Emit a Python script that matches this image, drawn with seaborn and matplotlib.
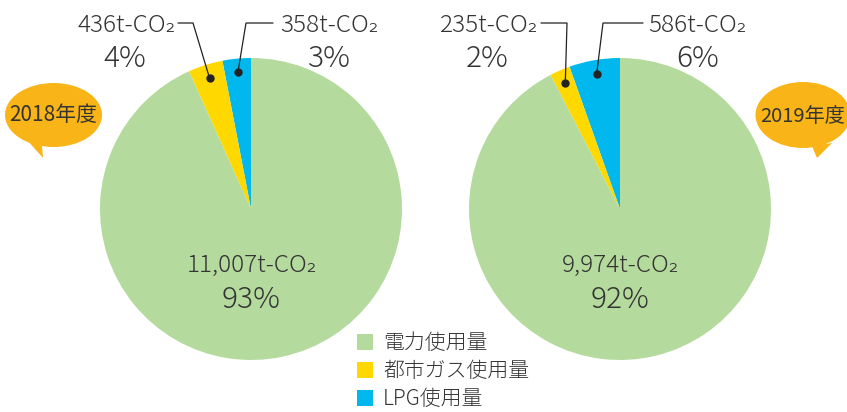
import numpy as np
import matplotlib
matplotlib.use("Agg")
import matplotlib.pyplot as plt
from matplotlib.patches import Ellipse, Polygon, Rectangle
import seaborn as sns

# ---------------- data ----------------
categories = ["電力使用量", "都市ガス使用量", "LPG使用量"]
years = ["2018年度", "2019年度"]
values_2018 = [11007, 436, 358]   # electricity, city gas, LPG (t-CO2)
values_2019 = [9974, 235, 586]
pct_2018 = [93, 4, 3]
pct_2019 = [92, 2, 6]

# ---------------- style ----------------
sns.set_theme(style="white")
plt.rcParams["font.family"] = ["Noto Sans CJK JP", "DejaVu Sans"]
palette = sns.color_palette(["#B5DA9D", "#FFD800", "#00B8EE"])
orange = "#F9B418"
txt = "#333333"
FW = "light"

W, H = 847, 412
fig = plt.figure(figsize=(W / 100, H / 100), dpi=100)
ax = fig.add_axes([0, 0, 1, 1])


def Y(py):
    return H - py


R = 151
centers = [(251, Y(209)), (620, Y(209))]
all_vals = [values_2018, values_2019]
all_pct = [pct_2018, pct_2019]

wedges_all = []
for (cx, cy), vals in zip(centers, all_vals):
    # draw order starting at 12 o'clock counter-clockwise: LPG, gas, electricity
    order = [2, 1, 0]
    w, _ = ax.pie([vals[i] for i in order], colors=[palette[i] for i in order],
                  startangle=90, counterclock=True, center=(cx, cy), radius=R,
                  wedgeprops=dict(linewidth=0), frame=True)
    wedges_all.append(dict(zip(order, w)))

ax.set_xlim(0, W)
ax.set_ylim(0, H)
ax.set_aspect("equal", adjustable="box")
ax.axis("off")


def co2(v):
    return f"{v:,}t-CO₂"


FS_VAL = 17.5
FS_PCT = 21.5

# layout of outside labels (pixel coordinates)
# (text anchor x, ha, pct center x, elbow x, line-end x)
outside = [
    {1: (176, "right", 125, 193, 178), 2: (280, "left", 329, 246, 273)},
    {1: (538, "right", 487, 567, 541), 2: (648, "left", 698, 603, 643)},
]

for k, ((cx, cy), vals, pcts) in enumerate(zip(centers, all_vals, all_pct)):
    # main (electricity) label inside pie
    ax.text(cx + 1, Y(272), co2(vals[0]), ha="center", va="baseline",
            fontsize=FS_VAL, color=txt, fontweight=FW)
    ax.text(cx, Y(308), f"{pcts[0]}%", ha="center", va="baseline",
            fontsize=FS_PCT, color=txt, fontweight=FW)
    for i in (1, 2):
        tx, ha, pcx, ex, lx = outside[k][i]
        ax.text(tx, Y(32), co2(vals[i]), ha=ha, va="baseline",
                fontsize=FS_VAL, color=txt, fontweight=FW)
        ax.text(pcx, Y(67), f"{pcts[i]}%", ha="center", va="baseline",
                fontsize=FS_PCT, color=txt, fontweight=FW)
        wd = wedges_all[k][i]
        mid = np.deg2rad((wd.theta1 + wd.theta2) / 2)
        dx = cx + 0.91 * R * np.cos(mid)
        dy = cy + 0.91 * R * np.sin(mid)
        ax.plot([lx, ex, dx], [Y(23), Y(23), dy], color="#222222", lw=0.9,
                solid_joinstyle="miter")
        ax.plot([dx], [dy], "o", color="#222222", ms=5)

# year speech bubbles
bubbles = [
    dict(c=(53.5, 115), w=97, h=64, tail=[(27, 140), (43, 158), (42, 146)],
         tx=53, ty=121, ha="center", fs=15),
    dict(c=(803, 115), w=95, h=66, tail=[(812, 146), (817, 158), (832, 143)],
         tx=845, ty=122, ha="right", fs=14.5),
]
for b, label in zip(bubbles, years):
    ax.add_patch(Ellipse((b["c"][0], Y(b["c"][1])), b["w"], b["h"],
                         color=orange, lw=0))
    ax.add_patch(Polygon([(x, Y(y)) for x, y in b["tail"]], closed=True,
                         color=orange, lw=0))
    ax.text(b["tx"], Y(b["ty"]), label, ha=b["ha"], va="baseline",
            fontsize=b["fs"], color=txt)

# legend
rows = [342, 370, 398]
for lab, col, ry in zip(categories, palette, rows):
    ax.add_patch(Rectangle((357, Y(ry + 8)), 16, 16, color=col, lw=0))
    ax.text(383, Y(ry + 7), lab, ha="left", va="baseline", fontsize=15,
            color=txt, fontweight=FW)

fig.savefig("out.png", dpi=100)
